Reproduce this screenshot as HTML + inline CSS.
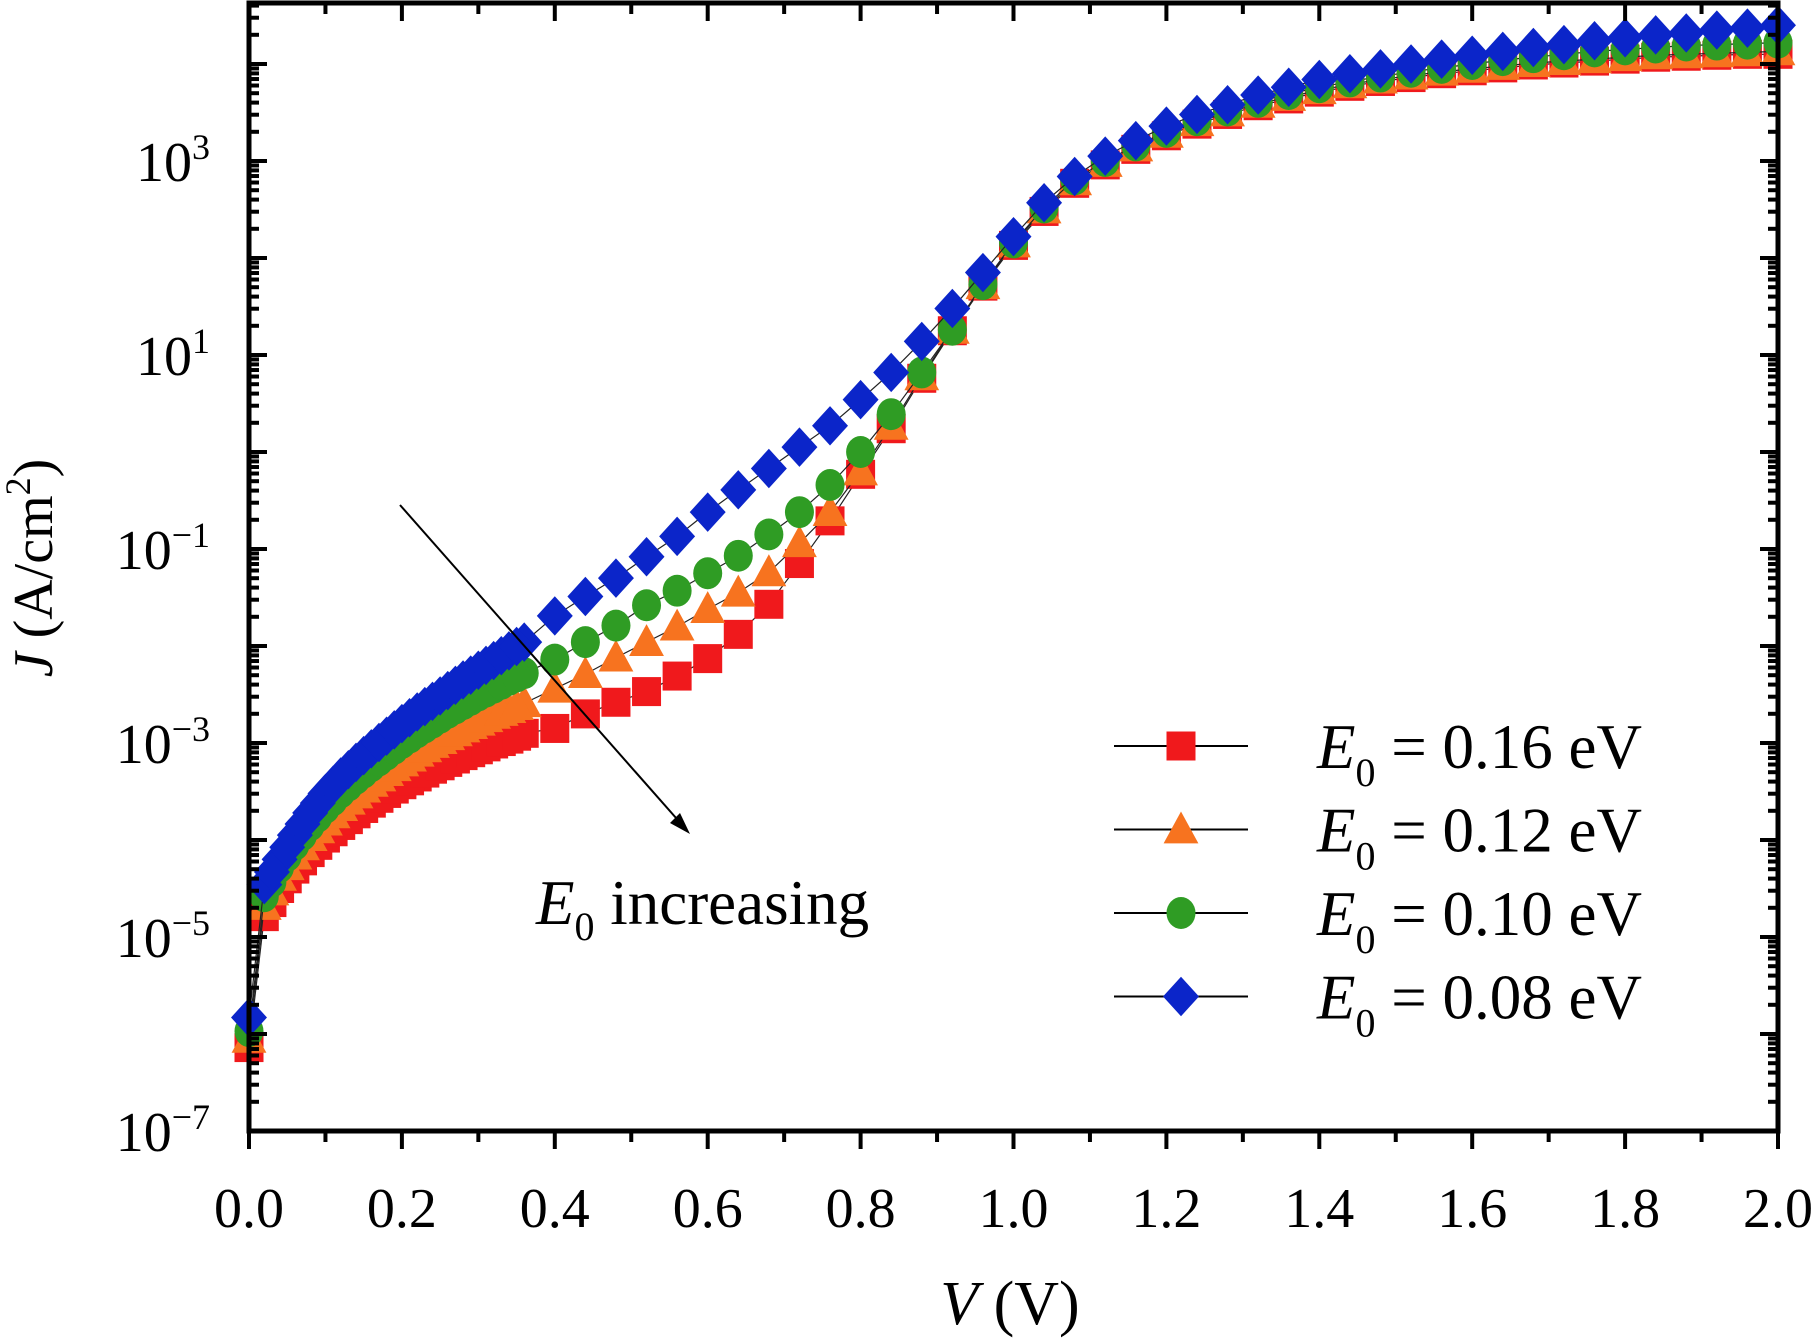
<!DOCTYPE html>
<html><head><meta charset="utf-8"><style>
html,body{margin:0;padding:0;background:#fff;}
svg{display:block;font-family:"Liberation Serif",serif;}
</style></head><body>
<svg id="chart" width="1819" height="1338" viewBox="0 0 1819 1338" xmlns="http://www.w3.org/2000/svg">
<g id="marks"></g>
<g id="axes"></g>
<line x1="400" y1="505" x2="684" y2="827" stroke="#000" stroke-width="2"/>
<polygon points="690,834 670,823 680,813" fill="#000"/>
<text x="536" y="924" font-size="63"><tspan font-style="italic">E</tspan><tspan font-size="40" dy="16">0</tspan><tspan dy="-16"> increasing</tspan></text>
<text x="1010" y="1324" font-size="62" text-anchor="middle"><tspan font-style="italic">V</tspan> (V)</text>
<text transform="translate(52,568) rotate(-90)" font-size="56" text-anchor="middle"><tspan font-style="italic">J</tspan> (A/cm<tspan font-size="36" dy="-22">2</tspan><tspan dy="22">)</tspan></text>
<g id="legend"></g>
</svg>
<script>
const voltages = [0,0.02,0.04,0.06,0.08,0.10,0.12,0.14,0.16,0.18,0.20,0.22,0.24,0.26,0.28,0.30,0.32,0.34,0.36,
0.40,0.44,0.48,0.52,0.56,0.60,0.64,0.68,0.72,0.76,0.80,0.84,0.88,0.92,0.96,1.00,1.04,1.08,1.12,1.16,1.20,1.24,1.28,1.32,1.36,1.40,1.44,1.48,1.52,1.56,1.60,1.64,1.68,1.72,1.76,1.80,1.84,1.88,1.92,1.96,2.00];
// log10(J) values
const logJ016 = [-6.14,-4.79,-4.5,-4.3,-4.13,-3.98,-3.85,-3.73,-3.62,-3.52,-3.43,-3.35,-3.27,-3.2,-3.13,-3.07,-3.01,-2.96,-2.9,
-2.85,-2.7,-2.58,-2.47,-2.31,-2.13,-1.88,-1.57,-1.15,-0.71,-0.23,0.24,0.76,1.25,1.71,2.13,2.48,2.77,2.96,3.12,3.26,3.38,3.48,3.57,3.64,3.71,3.77,3.82,3.86,3.9,3.93,3.96,3.99,4.01,4.03,4.05,4.07,4.08,4.09,4.1,4.1];
const logJ012 = [-6.05,-4.68,-4.38,-4.16,-3.97,-3.81,-3.66,-3.53,-3.41,-3.3,-3.2,-3.1,-3.01,-2.93,-2.85,-2.78,-2.71,-2.65,-2.59,
-2.44,-2.29,-2.12,-1.96,-1.8,-1.62,-1.45,-1.24,-0.94,-0.62,-0.2,0.27,0.78,1.26,1.72,2.15,2.5,2.79,2.98,3.14,3.28,3.4,3.5,3.59,3.66,3.73,3.79,3.84,3.88,3.92,3.95,3.98,4.01,4.03,4.05,4.07,4.09,4.1,4.11,4.12,4.13];
const logJ010 = [-5.97,-4.58,-4.28,-4.05,-3.85,-3.67,-3.51,-3.37,-3.24,-3.12,-3.0,-2.89,-2.79,-2.69,-2.6,-2.51,-2.43,-2.35,-2.28,
-2.14,-1.96,-1.79,-1.58,-1.43,-1.25,-1.07,-0.85,-0.62,-0.34,0.0,0.39,0.82,1.26,1.73,2.16,2.52,2.81,3.0,3.16,3.3,3.42,3.52,3.61,3.69,3.76,3.82,3.87,3.92,3.96,4.0,4.04,4.07,4.1,4.13,4.15,4.17,4.19,4.2,4.21,4.22];
const logJ008 = [-5.83,-4.46,-4.2,-3.95,-3.72,-3.52,-3.35,-3.2,-3.06,-2.93,-2.8,-2.68,-2.57,-2.46,-2.35,-2.25,-2.15,-2.05,-1.96,
-1.69,-1.49,-1.3,-1.08,-0.87,-0.62,-0.39,-0.17,0.05,0.27,0.54,0.82,1.14,1.48,1.85,2.22,2.57,2.84,3.05,3.21,3.36,3.48,3.58,3.68,3.76,3.84,3.9,3.95,4.0,4.05,4.09,4.13,4.17,4.2,4.24,4.27,4.3,4.32,4.35,4.37,4.4];
const xTicks = ["0.0","0.2","0.4","0.6","0.8","1.0","1.2","1.4","1.6","1.8","2.0"];
const yTickExps = [-7,-5,-3,-1,1,3];
const legendLabels = ["0.16","0.12","0.10","0.08"];

const NS="http://www.w3.org/2000/svg";
const L=249,R=1778,T=3,B=1131;
const xS=v=>L+(v/2)*(R-L);
const dec=97;
const yS=lg=>B-(lg+7)*dec;
function mk(tag,attrs,parent){const e=document.createElementNS(NS,tag);for(const k in attrs)e.setAttribute(k,attrs[k]);parent.appendChild(e);return e;}
const marks=document.getElementById('marks'),axes=document.getElementById('axes'),leg=document.getElementById('legend');
function marker(type,cx,cy,color,parent,s){
  let e;
  if(type==='sq') e=mk('rect',{x:cx-s/2,y:cy-s/2,width:s,height:s,fill:color},parent);
  else if(type==='tri') e=mk('polygon',{points:`${cx},${cy-s*0.62} ${cx-s*0.6},${cy+s*0.48} ${cx+s*0.6},${cy+s*0.48}`,fill:color},parent);
  else if(type==='circ') e=mk('ellipse',{cx:cx,cy:cy,rx:s*0.5,ry:s*0.55,fill:color},parent);
  else e=mk('polygon',{points:`${cx},${cy-s*0.68} ${cx+s*0.62},${cy} ${cx},${cy+s*0.68} ${cx-s*0.62},${cy}`,fill:color},parent);
  return e;
}
const series=[[logJ016,'#f0191c','sq','e0-016'],[logJ012,'#f7731f','tri','e0-012'],[logJ010,'#2f9c24','circ','e0-010'],[logJ008,'#0b25c9','dia','e0-008']];
series.forEach(([d,c,t,n])=>{
  const g=mk('g',{},marks);
  
  
  const pl=mk('polyline',{points:voltages.map((v,i)=>xS(v)+','+yS(d[i])).join(' '),fill:'none',stroke:'#222',"stroke-width":1.2},g);
  
  
  voltages.forEach((v,i)=>{
    const m=marker(t,xS(v),yS(d[i]),c,g,29);
    
    
    if(i>1 && v<=0.365){
      const mid=marker(t,xS((v+voltages[i-1])/2),yS((d[i]+d[i-1])/2),c,g,29);
      
      
    }
  });
});
const fr=mk('rect',{x:L,y:T,width:R-L,height:B-T,fill:'none',stroke:'#000','stroke-width':5},axes);


for(let i=0;i<=20;i++){
  const x=xS(i*0.1),maj=i%2===0,len=maj?18:11;
  mk('line',{x1:x,y1:B,x2:x,y2:B+len,stroke:'#000','stroke-width':4},axes);
  mk('line',{x1:x,y1:T,x2:x,y2:T+len,stroke:'#000','stroke-width':4},axes);
}
xTicks.forEach(s=>{
  const t=mk('text',{x:xS(parseFloat(s)),y:B+96,'font-size':56,'text-anchor':'middle'},axes);
  t.textContent=s;
  
  
});
for(let e=-7;e<5;e++){
  for(let k=1;k<10;k++){
    const lg=e+Math.log10(k),y=yS(lg);
    if(y<T) continue;
    const len=k===1?18:10;
    mk('line',{x1:L,y1:y,x2:L+len,y2:y,stroke:'#000','stroke-width':4},axes);
    mk('line',{x1:R,y1:y,x2:R-len,y2:y,stroke:'#000','stroke-width':4},axes);
  }
}
yTickExps.forEach(e=>{
  const t=mk('text',{x:210,y:yS(e)+20,'font-size':56,'text-anchor':'end'},axes);
  
  
  t.appendChild(document.createTextNode('10'));
  const sp=mk('tspan',{'font-size':36,dy:-22},t);
  sp.textContent=(e<0?'\u2212':'')+Math.abs(e);
});
const types=['sq','tri','circ','dia'],cols=['#f0191c','#f7731f','#2f9c24','#0b25c9'];
legendLabels.forEach((lab,i)=>{
  const y=746+i*83.5;
  const g=mk('g',{},leg);
  
  
  mk('line',{x1:1114,y1:y,x2:1248,y2:y,stroke:'#000','stroke-width':2},g);
  marker(types[i],1181,y,cols[i],g,29);
  const t=mk('text',{x:1317,y:y+22,'font-size':63},g);
  const a=mk('tspan',{'font-style':'italic'},t);a.textContent='E';
  const b=mk('tspan',{'font-size':40,dy:18},t);b.textContent='0';
  const c=mk('tspan',{dy:-18},t);c.textContent=' = '+lab+' eV';
});
</script>
</body></html>
